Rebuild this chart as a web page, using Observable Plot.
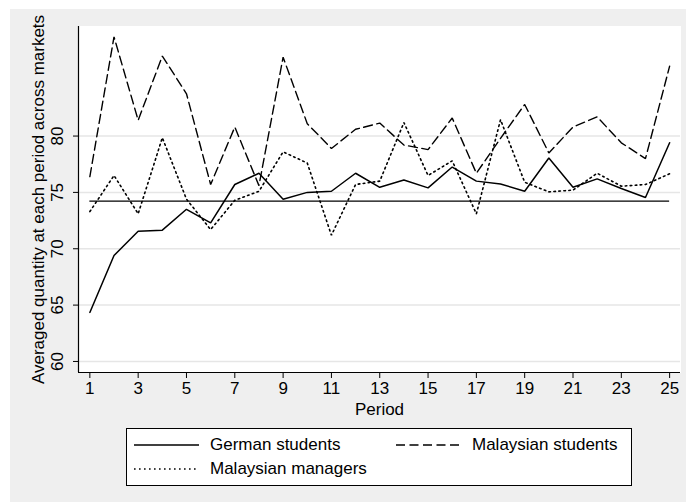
<!DOCTYPE html>
<html>
<head>
<meta charset="utf-8">
<script src="https://cdn.jsdelivr.net/npm/d3@7"></script>
<script src="https://cdn.jsdelivr.net/npm/@observablehq/plot@0.6"></script>
<style>
  html, body { margin: 0; padding: 0; background: #ffffff; }
  body { width: 686px; height: 502px; position: relative; overflow: hidden; font-family: "Liberation Sans", Arial, sans-serif; }
  #wrap { position: absolute; left: 10px; top: 9px; width: 676px; height: 493px; background: #efefef; }
  #legend { position: absolute; left: 116px; top: 419px; width: 504px; height: 56px; background: #ffffff; border: 1px solid #000; font-size: 17px; color: #000; }
  .item { position: absolute; display: flex; align-items: center; white-space: nowrap; }
  .item svg { margin-right: 11px; }
</style>
</head>
<body>
<div id="wrap"><div id="chart"></div><div id="legend"></div></div>
<script>
const periods = [1,2,3,4,5,6,7,8,9,10,11,12,13,14,15,16,17,18,19,20,21,22,23,24,25];
const germanStudents = [64.35,69.4,71.55,71.65,73.5,72.3,75.7,76.7,74.4,75.0,75.1,76.7,75.45,76.1,75.4,77.25,76.0,75.75,75.1,78.05,75.45,76.2,75.35,74.55,79.4];
const malaysianStudents = [76.4,88.8,81.4,87.1,83.75,75.7,80.8,75.6,87.0,81.1,78.9,80.6,81.15,79.2,78.8,81.6,76.7,79.8,82.8,78.5,80.8,81.7,79.4,78.0,86.2];
const malaysianManagers = [73.3,76.5,73.1,79.85,74.4,71.7,74.3,75.1,78.6,77.6,71.2,75.7,76.0,81.2,76.5,77.8,73.1,81.45,75.9,75.05,75.2,76.7,75.55,75.7,76.65];
const seriesNames = ["German students", "Malaysian students", "Malaysian managers"];
const referenceValue = 74.23;
const xTicks = [1,3,5,7,9,11,13,15,17,19,21,23,25];
const yTicks = [60,65,70,75,80];
const yTitle = "Averaged quantity at each period across markets";
const xTitle = "Period";

const dashes = ["none", "9,4.5", "1.6,3.4"];
const widths = [1.5, 1.4, 1.6];
const seriesValues = [germanStudents, malaysianStudents, malaysianManagers];
const tables = seriesValues.map((vals, i) => periods.map((p, j) => ({period: p, value: vals[j], series: seriesNames[i]})));

const xDomain = [0.53, 25.45];
const yDomain = [59.02, 89.72];

const chart = Plot.plot({
  width: 676,
  height: 410,
  marginLeft: 68,
  marginRight: 6,
  marginTop: 17,
  marginBottom: 47,
  style: {background: "transparent", fontFamily: "'Liberation Sans', Arial, sans-serif", fontSize: "17px", color: "#000"},
  x: {domain: xDomain},
  y: {domain: yDomain},
  marks: [
    Plot.frame({fill: "white", stroke: "white"}),
    Plot.ruleY(yTicks, {stroke: "#e6e6e6", strokeWidth: 1.5}),
    Plot.ruleY([referenceValue], {x1: periods[0], x2: periods[periods.length - 1], stroke: "#000", strokeWidth: 1.2}),
    ...tables.map((t, i) => Plot.line(t, {x: "period", y: "value", stroke: "#000", strokeWidth: widths[i], strokeDasharray: dashes[i], strokeLinejoin: "miter"})),
    Plot.ruleX([xDomain[0]], {stroke: "#000", strokeWidth: 1.2}),
    Plot.ruleY([yDomain[0]], {stroke: "#000", strokeWidth: 1.2}),
    Plot.axisX({ticks: xTicks, tickSize: 6, tickPadding: 3, fontSize: 17, stroke: "#000", label: null}),
    Plot.axisY({ticks: yTicks, tickSize: 5, tickFormat: () => "", stroke: "#000", label: null}),
    Plot.text(yTicks, {y: d => d, frameAnchor: "left", text: d => String(d), rotate: -90, dx: -21, textAnchor: "middle", lineAnchor: "middle", fontSize: 17, fill: "#000"}),
    Plot.text([yTitle], {frameAnchor: "left", text: d => d, rotate: -90, dx: -40, textAnchor: "middle", lineAnchor: "middle", fontSize: 17, fill: "#000"}),
    Plot.text([xTitle], {frameAnchor: "bottom", text: d => d, dy: 37, textAnchor: "middle", lineAnchor: "middle", fontSize: 17, fill: "#000"})
  ]
});
document.getElementById("chart").appendChild(chart);

// legend
const legend = document.getElementById("legend");
const positions = [{left: 7, top: 5}, {left: 269, top: 5}, {left: 7, top: 29}];
seriesNames.forEach((name, i) => {
  const item = document.createElement("div");
  item.className = "item";
  item.style.left = positions[i].left + "px";
  item.style.top = positions[i].top + "px";
  item.style.height = "22px";
  const ns = "http://www.w3.org/2000/svg";
  const svg = document.createElementNS(ns, "svg");
  svg.setAttribute("width", "65");
  svg.setAttribute("height", "10");
  const ln = document.createElementNS(ns, "line");
  ln.setAttribute("x1", "0"); ln.setAttribute("x2", "65");
  ln.setAttribute("y1", "5"); ln.setAttribute("y2", "5");
  ln.setAttribute("stroke", "#000");
  ln.setAttribute("stroke-width", widths[i]);
  if (dashes[i] !== "none") ln.setAttribute("stroke-dasharray", dashes[i]);
  svg.appendChild(ln);
  item.appendChild(svg);
  const span = document.createElement("span");
  span.textContent = name;
  item.appendChild(span);
  legend.appendChild(item);
});
</script>
</body>
</html>
